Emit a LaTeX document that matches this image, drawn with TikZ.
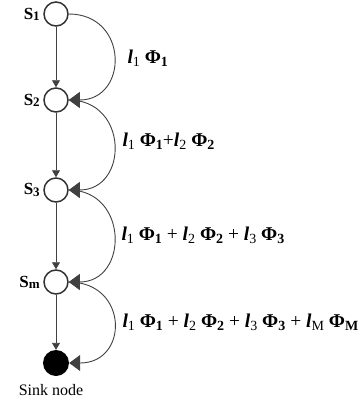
\documentclass[tikz,border=0pt]{standalone}
\usepackage{fontspec}
\setmainfont{Liberation Serif}
\usetikzlibrary{positioning, arrows.meta, calc}
% weight term  l_i Phi_i
\newcommand{\lph}[1]{\textbf{\textit{l}}\raisebox{-0.3ex}{\fontsize{14}{16}\selectfont #1}\ \textbf{Φ}\raisebox{-0.3ex}{\fontsize{14}{16}\selectfont\bfseries #1}}
\newcommand{\sn}[1]{S\raisebox{-0.15ex}{\fontsize{13}{15}\selectfont #1}}

\begin{document}
\begin{tikzpicture}[x=1pt, y=1pt,
    sensor/.style={circle, draw=black!80, line width=1.5pt, minimum size=24pt, inner sep=0pt,
                   label distance=1pt},
    sinknode/.style={circle, fill=black, minimum size=26pt, inner sep=0pt},
    hop/.style={draw=black!75, line width=0.9pt, -{Triangle[length=7pt, width=8pt]}},
    feed/.style={draw=black!75, line width=0.9pt, -{Triangle[length=11pt, width=16pt]}},
    sname/.style={font=\fontsize{17}{19}\selectfont\bfseries},
    cost/.style={font=\fontsize{19.5}{22}\selectfont, anchor=west},
]
\useasboundingbox (0,0) rectangle (364,-407);

% sensor chain
\node[sensor, label={[sname]left:\sn{1}}] (s1) at (56, -14) {};
\node[sensor, label={[sname]left:\sn{2}}] (s2) at (56, -100) {};
\node[sensor, label={[sname]left:\sn{3}}] (s3) at (56, -190) {};
\node[sensor, label={[sname]left:\sn{m}}] (sm) at (56, -282) {};
\node[sinknode] (sink) at (56, -363) {};
\node[font=\fontsize{16}{18}\selectfont, below=5pt of sink, xshift=-5pt] (sinklbl) {Sink node};

% hops down the chain
\draw[hop] (s1) -- (s2);
\draw[hop] (s2) -- (s3);
\draw[hop] (s3) -- (sm);
\draw[hop] (sm) -- (sink);

% accumulated cost loops
\draw[feed] (s1.east) .. controls +(60,0) and +(60,0) .. (s2.east);
\draw[feed] (s2.east) .. controls +(60,0) and +(60,0) .. (s3.east);
\draw[feed] (s3.east) .. controls +(60,0) and +(60,0) .. (sm.east);
\draw[feed] (sm.east) .. controls +(60,0) and +(60,0) .. (sink.east);

\node[cost] (c1) at (124, -58) {\lph{1}};
\node[cost] (c2) at (119, -141) {\lph{1}+\lph{2}};
\node[cost] (c3) at (118, -235) {\lph{1} + \lph{2} + \lph{3}};
\node[cost] (c4) at (119, -322) {\lph{1} + \lph{2} + \lph{3} + \lph{M}};

\end{tikzpicture}
\end{document}
